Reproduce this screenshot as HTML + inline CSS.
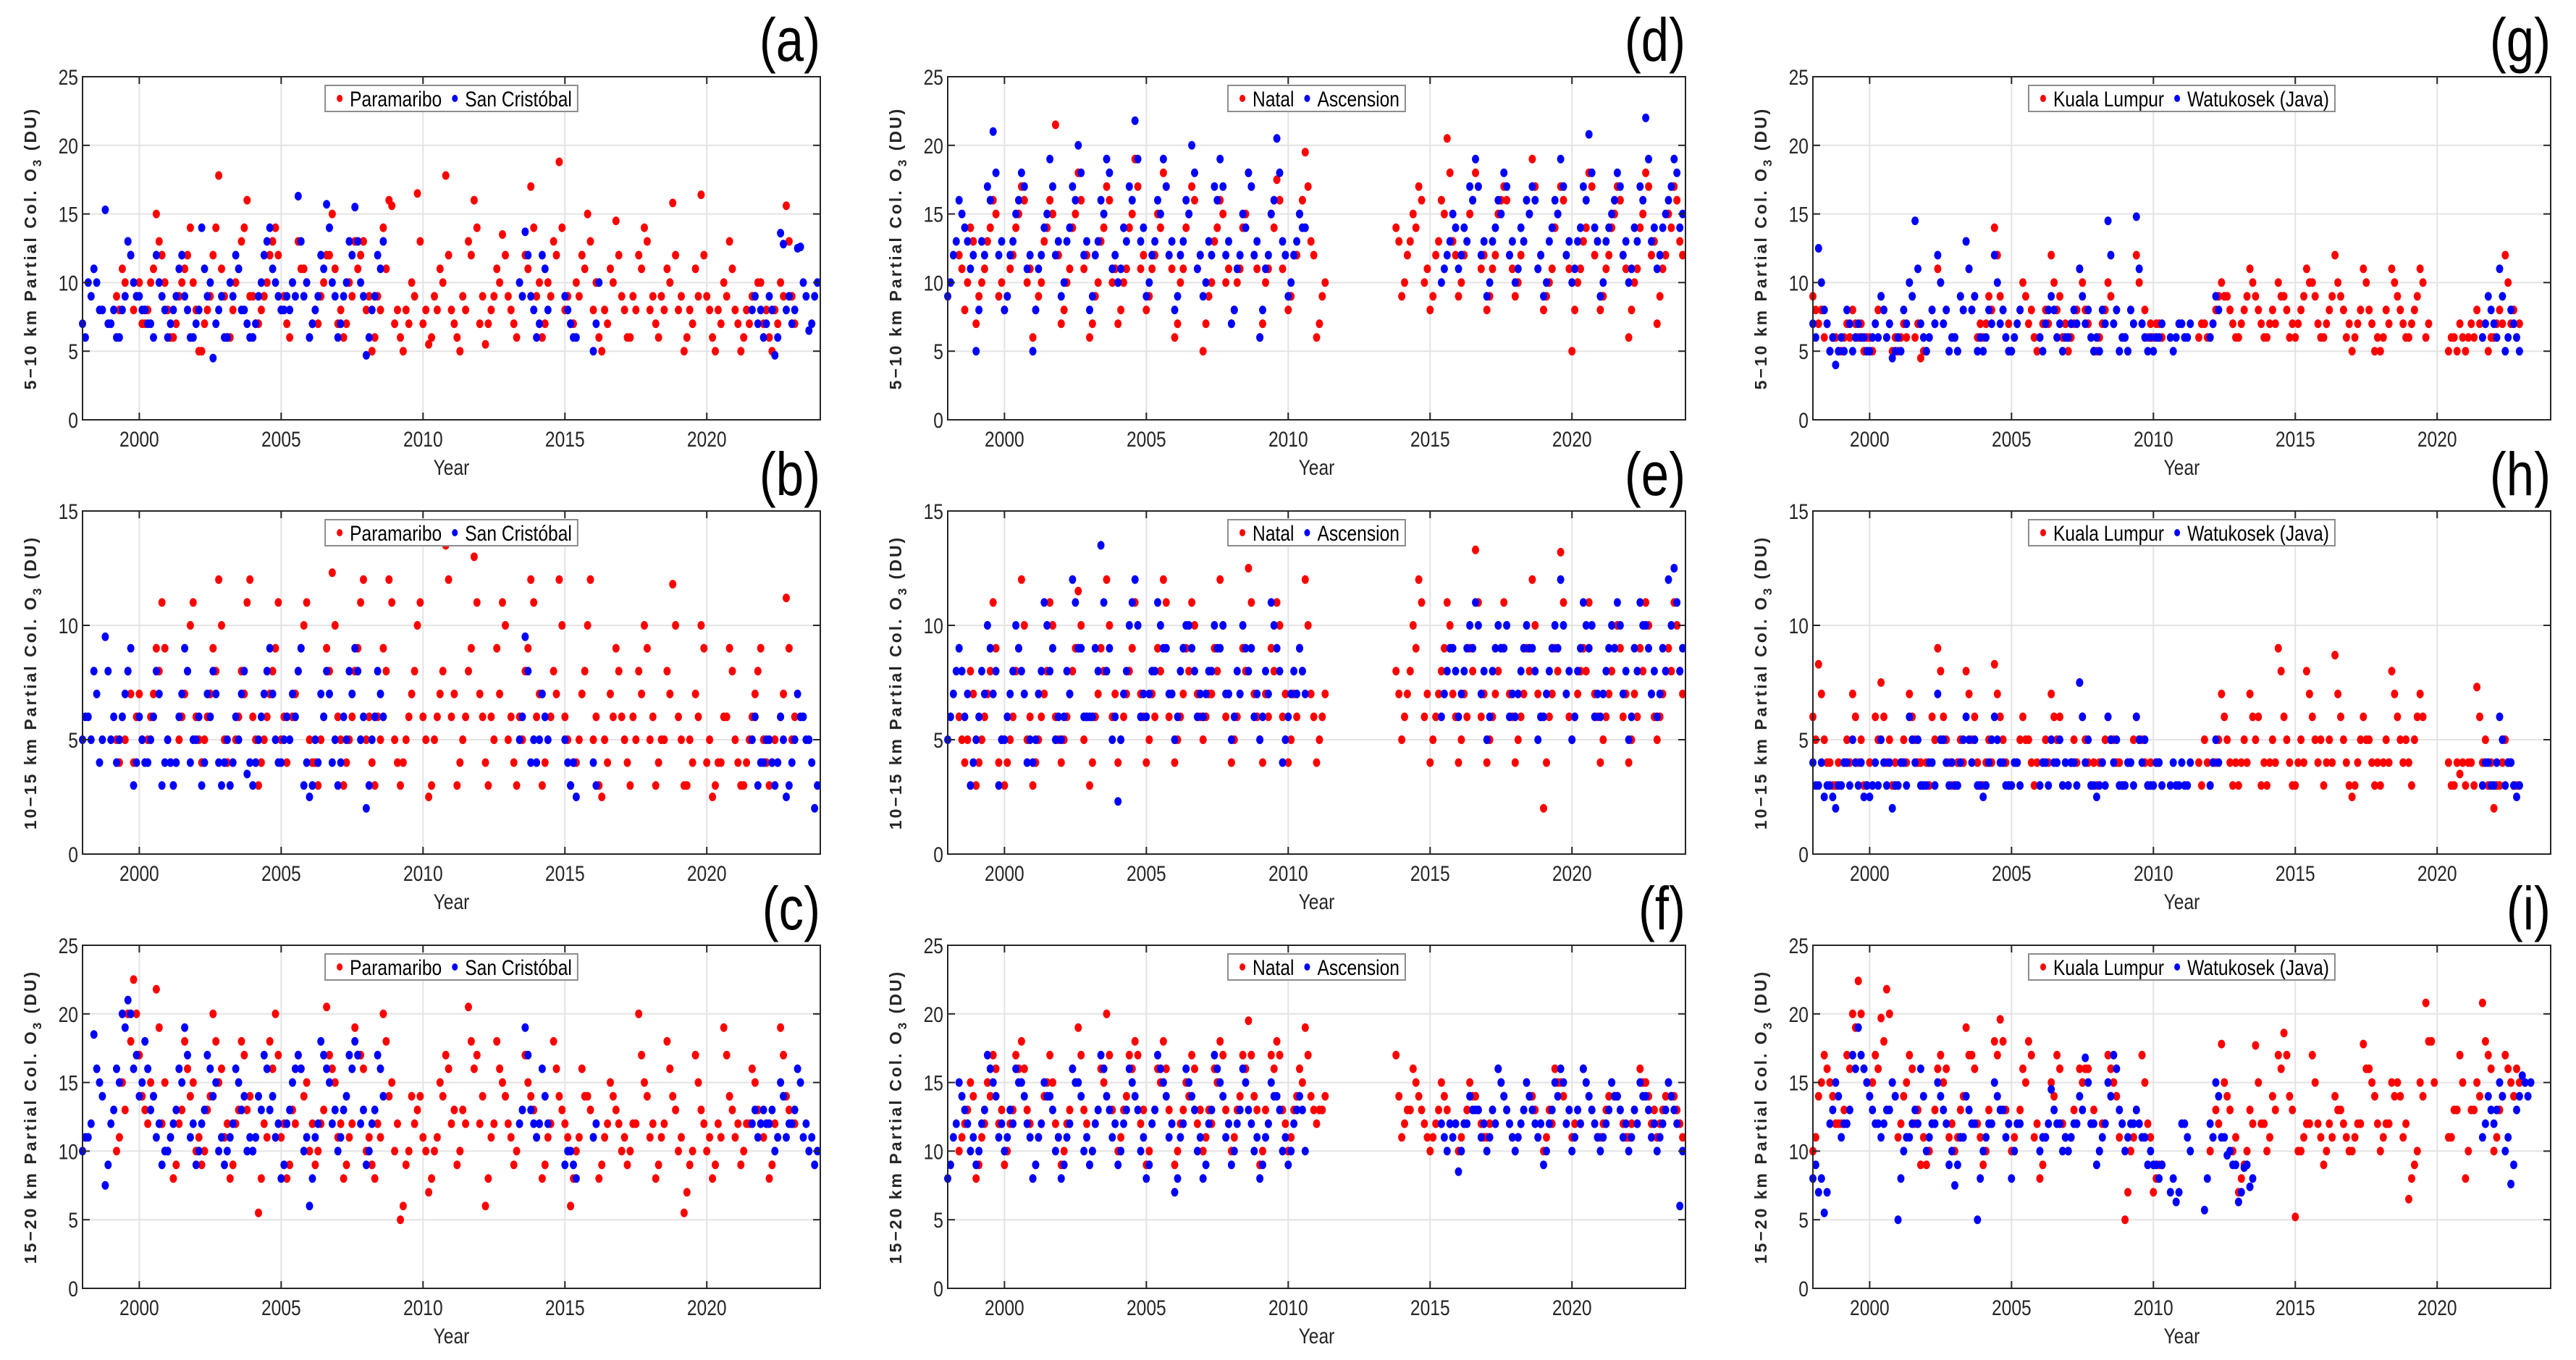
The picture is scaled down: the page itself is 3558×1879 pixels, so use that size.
<!DOCTYPE html>
<html><head><meta charset="utf-8"><style>
html,body{margin:0;padding:0;background:#fff}
svg{display:block}
.tk{font-family:"Liberation Sans",sans-serif;font-size:30px;fill:#262626}
.lg{font-family:"Liberation Sans",sans-serif;font-size:30px;fill:#000}
.pl{font-family:"Liberation Sans",sans-serif;font-size:84px;fill:#000}
.yl{font-family:"Liberation Sans",sans-serif;font-weight:bold;font-size:23px;fill:#262626}
</style></head><body>
<svg id="fig" width="3558" height="1879" viewBox="0 0 3558 1879" xmlns="http://www.w3.org/2000/svg"></svg>
<script>
// ---- data (5 samples per year per array, null = no data) ----
const xTicks=[2000,2005,2010,2015,2020];
const yTicks25=[0,5,10,15,20,25];
const yTicks15=[0,5,10,15];
const a_red_start=1999.2;
const a_red=[9,11,13,8,10, 7,10,15,12,8, 6,9,11,14,8, 5,8,12,17.8,9, 6,10,13,16,9, 7,9,12,14,8, 7,10,13,11,6, 8,9,12,15,7, 6,10,13,12,8, 5,9,14,16,7, 6,8,10,16.5,7, 5.5,9,11,17.8,8, 6,9,13,16,7, 5.5,8,11,13.5,9, 7,10,12,17,9, 6,10,13,18.8,8, 7,10,12,15,8, 6,8,11,14.5,9, 6,9,12,14,8, 7,9,11,15.8,8, 5,8,11,16.4,9, 6,8,10,13,8, 5,8,9,10,7, 6,8,10,15.6,9];
const a_red2_start=1999.3;
const a_red2=[8,10,12,9,7, 8,11,13,10,6, 7,10,12,10,5, 7,9,14,11,6, 8,11,14,9,7, 8,10,13,12,9, 6,9,11,10,7, 7,10,12,11,8, 7,9,11,13,9, 6,8,11,15.6,8, 5,7,9,13,8, 6,8,10,12,7, 5,8,12,14,9, 7,9,10,12,8, 6,9,11,14,10, 7,9,12,14,9, 7,9,11,13,10, 5,7,10,12,8, 6,8,11,13,9, 6,8,10,12,9, 6,7,9,12,8, 5,7,9,11,7, 6,7,9,10,8, 5,7,9,13,7];
const a_blue_start=1998.0;
const a_blue=[7,10,11,8,15.3, 7,6,8,13,10, 9,8,7,12,9, 6,8,11,9,6, 7,14,9,4.5,8, 6,10,12,8,7, 6,9,12,14,10, 8,9,10,16.3,9, 6,8,12,15.7,10, 6,9,13,15.5,10, 4.7,8,12,13,null, null,null,null,null,null, null,null,null,null,null, null,null,null,null,null, null,null,null,null,null, null,null,10,13.7,9, 6,12,8,null,null, 9,7,6,null,null, 5,10,null,null,null, null,null,null,null,null, null,null,null,null,null, null,null,null,null,null, null,null,null,null,null, null,null,null,8,7, 6,9,4.7,13.6,8, 7,12.5,10,6.5,9];
const a_blue2_start=1998.1;
const a_blue2=[6,9,10,8,7, 8,6,9,12,9, 8,7,6,10,8, 7,9,12,8,6, 8,11,10,7,9, 6,9,11,8,6, 7,10,13,11,9, 8,8,9,13,10, 7,9,11,14,9, 7,10,12,13,9, 6,9,11,null,null, null,null,null,null,null, null,null,null,null,null, null,null,null,null,null, null,null,null,null,null, null,null,9,12,8, 7,11,null,null,null, 8,6,null,null,null, 7,null,null,null,null, null,null,null,null,null, null,null,null,null,null, null,null,null,null,null, null,null,null,null,null, null,null,null,9,8, 7,8,6,12.8,9, 8,12.6,9,7,10];
const b_red_start=1999.2;
const b_red=[5,6,8,4,7, 4,6,9,11,5, 3,5,7,10,6, 4,6,9,12,5, 3,5,8,11,6, 3,5,7,9,5, 4,6,8,10,5, 4,5,9,12.3,6, 3,5,8,11,5, 4,6,9,12,5, 3,5,7,10,6, 2.5,5,7,13.5,6, 3,5,8,13,7, 4,6,9,11,5, 4,6,8,12,6, 3,5,8,12,6, 3,4,7,10,5, 3,5,7,9,6, 4,6,8,10,5, 3,5,8,11.8,6, 3,5,7,10,4, 2.5,4,6,9,5, 3,4,6,8,5, 3,5,6,11.2,5];
const b_red2_start=1999.3;
const b_red2=[4,5,7,6,5, 5,7,8,9,4, 4,6,8,11,5, 5,7,8,10,4, 4,6,7,12,5, 4,6,8,11,6, 5,7,9,11,4, 3,6,8,10,5, 4,6,9,12,6, 3,5,8,11,4, 4,6,8,11,5, 3,6,8,12,7, 4,6,9,11,6, 3,5,7,10,6, 3,5,9,11,7, 4,6,7,10,5, 4,5,8,12,6, 2.5,4,6,8,5, 3,5,7,9,6, 4,5,7,10,5, 3,4,6,9,5, 3,4,6,8,4, 3,5,7,9,4, 4,4,7,9,6];
const b_blue_start=1998.0;
const b_blue=[5,6,8,4,9.5, 5,4,6,8,3, 6,4,5,8,3, 5,3,6,9,4, 5,3,7,8,4, 4,3,6,7,3.5, 3,5,7,9,5, 4,6,7,8,3, 2.5,5,7,8,4, 3,6,8,9,5, 2,5,8,6,null, null,null,null,null,null, null,null,null,null,null, null,null,null,null,null, null,null,null,null,null, null,null,5,9.5,4, 4,7,5,null,null, 5,3,2.5,null,null, 4,null,null,null,null, null,null,null,null,null, null,null,null,null,null, null,null,null,null,null, null,null,null,null,null, null,null,null,5,3, 4,5,3,6,2.5, 4,7,6,5,2];
const b_blue2_start=1998.1;
const b_blue2=[6,5,7,5,8, 6,5,7,9,4, 5,4,6,7,4, 4,4,7,8,5, 6,4,6,7,3, 5,4,5,8,4, 4,6,8,7,4, 5,5,6,9,4, 3,4,6,7,5, 4,5,7,8,6, 3,6,7,null,null, null,null,null,null,null, null,null,null,null,null, null,null,null,null,null, null,null,null,null,null, null,null,6,8,5, 5,6,null,null,null, 4,4,null,null,null, 3,null,null,null,null, null,null,null,null,null, null,null,null,null,null, null,null,null,null,null, null,null,null,null,null, null,null,null,6,4, 5,4,4,5,3, 5,6,5,4,3];
const c_red_start=1999.2;
const c_red=[10,15,20,22.5,17, 13,15,21.8,12,10, 8,12,18,14,10, 9,13,20,15,11, 8,12,18,13,10, 5.5,12,18,20,11, 8,13,17,14,10, 9,12,20.5,16,11, 8,11,19,17,10, 9,12,20,14,10, 5,9,14,13,11, 7,10,15,17,12, 9,13,20.5,16,12, 6,11,18,15,12, 9,12,17,14,11, 8,11,18,14,12, 6,10,16,14,11, 8,11,15,13,10, 9,12,20,15,11, 8,11,18,14,10, 5.5,9,17,13,10, 8,12,19,14,11, 9,12,16,13,11, 8,12,19,14,12];
const c_red2_start=1999.3;
const c_red2=[11,13,18,20,14, 12,14,19,15,11, 9,13,16,15,11, 10,14,18,16,12, 9,13,17,14,11, 8,11,16,17,12, 9,12,16,15,12, 10,13,17,15,12, 9,12,17,16,11, 8,11,18,15,12, 6,10,12,14,10, 8,11,14,16,13, 10,12,18,17,14, 8,12,16,14,11, 10,13,15,13,12, 9,12,16,13,11, 8,11,14,13,12, 9,12,14,12,11, 10,12,17,14,12, 9,12,16,13,11, 7,10,15,12,11, 9,11,17,13,12, 10,12,15,12,12, 9,11,17,13,12];
const c_blue_start=1998.0;
const c_blue=[10,11,18.5,15,7.5, 12,16,20,21,16, 14,18,13,11,9, 10,12,16,19,11, 9,12,17,14,10, 9,11,16,13,10, 10,14,17,13,11, 8,12,15,17,10, 6,11,18,16,12, 10,13,17,18,12, 9,12,17,14,null, null,null,null,null,null, null,null,null,null,null, null,null,null,null,null, null,null,null,null,null, null,null,12,19,13, 11,16,12,null,null, 9,10,8,null,null, 11,null,null,null,null, null,null,null,null,null, null,null,null,null,null, null,null,null,null,null, null,null,null,null,null, null,null,null,12,11, 13,12,10,15,11, 12,16,11,10,9];
const c_blue2_start=1998.1;
const c_blue2=[11,12,16,14,9, 13,15,19,20,17, 15,16,14,12,10, 11,13,15,17,12, 10,13,16,15,11, 10,12,15,14,11, 11,13,16,14,12, 9,13,16,16,11, 8,12,17,15,13, 11,14,16,17,13, 10,13,16,null,null, null,null,null,null,null, null,null,null,null,null, null,null,null,null,null, null,null,null,null,null, null,null,13,17,12, 12,14,null,null,null, 10,9,null,null,null, 12,null,null,null,null, null,null,null,null,null, null,null,null,null,null, null,null,null,null,null, null,null,null,null,null, null,null,null,13,12, 12,13,11,14,12, 13,15,12,11,10];
const d_red_start=1998.4;
const d_red=[12,8,14, 7,10,13,16,9, 8,11,14,17,10, 6,9,13,16,21.5, 7,10,14,18,11, 6,9,13,17,10, 7,10,14,19,11, 8,11,15,18,12, 6,10,14,17,11, 5,9,13,16,10, 7,10,14,18,12, 6,10,15,17.5,11, 8,12,15,19.5,13, 6,9,null,null,null, null,null,null,null,null, null,null,null,null,14, 9,12,15,17,10, 8,12,16,20.5,13, 9,12,15,18,11, 8,11,15,17,12, 9,12,16,19,11, 8,10,14,17,12, 5,10,13,18,12, 8,11,14,17,12, 6,10,14,18,12, 7,11,15,17,13];
const d_red2_start=1998.5;
const d_red2=[11,10,13, 9,11,14,15,10, 9,12,15,16,11, 8,10,14,15,12, 8,11,15,16,12, 7,10,14,16,11, 8,11,15,17,12, 9,12,14,17,11, 7,11,15,16,12, 7,10,14,15,11, 8,11,15,17,11, 7,11,14,16,12, 9,12,16,17,12, 7,10,null,null,null, null,null,null,null,null, null,null,null,null,13, 10,13,14,16,11, 9,13,15,18,12, 10,13,16,17,12, 9,12,16,16,11, 10,13,15,17,12, 9,11,15,16,11, 8,11,14,17,13, 9,12,15,16,11, 8,11,15,17,13, 9,12,14,16,12];
const d_blue_start=1998.0;
const d_blue=[9,12,16,14,11, 5,13,17,21,12, 8,12,15,18,11, 5,11,14,19,12, 9,13,17,20,12, 8,12,16,19,11, 10,14,17,21.8,13, 9,12,16,19,12, 8,12,16,20,11, 9,13,17,19,12, 7,11,15,18,12, 6,11,15,20.5,13, 9,12,15,14,null, null,null,null,null,null, null,null,null,null,null, null,null,null,null,null, null,null,null,null,null, null,null,10,12,15, 11,14,17,19,12, 9,13,16,18,12, 10,14,16,17,11, 9,13,16,19,12, 10,13,17,20.8,14, 9,13,15,18,12, 10,14,17,22,13, 11,14,16,19,14];
const d_blue2_start=1998.1;
const d_blue2=[10,13,15,13,12, 8,12,16,18,13, 9,13,16,17,12, 8,12,15,17,13, 10,14,16,18,13, 9,13,15,18,12, 11,13,16,19,14, 10,13,15,17,13, 9,13,15,18,12, 10,12,16,17,13, 8,12,14,17,13, 8,12,16,18,12, 10,13,14,null,null, null,null,null,null,null, null,null,null,null,null, null,null,null,null,null, null,null,null,null,null, null,null,11,13,14, 12,13,16,17,13, 10,14,15,17,13, 11,13,15,16,12, 10,14,15,17,13, 11,14,16,18,13, 10,14,16,17,13, 11,13,16,19,14, 12,15,17,18,15];
const e_red_start=1998.4;
const e_red=[6,4,8, 3,5,7,11,4, 3,5,8,12,5, 3,5,7,11,6, 4,6,8,11.5,5, 3,6,9,12,6, 4,6,8,11,7, 4,7,9,12,6, 4,6,9,11,7, 5,7,9,12,6, 4,6,9,12.5,7, 5,7,9,11,6, 4,7,9,12,7, 4,6,null,null,null, null,null,null,null,null, null,null,null,null,8, 5,7,10,12,6, 4,6,8,11,7, 4,7,9,13.3,6, 4,6,8,11,7, 4,6,9,12,7, 2,6,9,13.2,7, 5,7,9,11,7, 4,6,8,10,6, 4,7,9,11,7, 5,7,9,11,8];
const e_red2_start=1998.5;
const e_red2=[5,5,7, 4,6,8,9,5, 4,6,9,10,6, 4,6,8,10,5, 5,7,9,10,6, 4,7,8,10,7, 5,7,9,10,6, 5,6,8,11,7, 5,7,8,10,6, 6,7,8,10,7, 5,7,8,11,6, 4,6,8,10,7, 5,6,8,10,6, 5,7,null,null,null, null,null,null,null,null, null,null,null,null,7, 6,8,9,11,7, 5,7,9,10,6, 5,6,8,11,7, 5,7,9,10,6, 5,7,8,10,6, 4,7,8,11,6, 6,8,8,10,6, 5,7,9,9,7, 5,6,8,10,6, 6,8,8,10,7];
const e_blue_start=1998.0;
const e_blue=[5,7,9,6,3, 5,8,10,7,3, 5,7,10,8,4, 4,7,11,8,5, 5,8,12,9,6, 6,9,13.5,8,5, 2.3,7,10,12,6, 6,8,11,9,7, 5,8,10,9,6, 6,8,10,9,7, 5,8,10,8,6, 5,8,11,9,4, 6,8,9,7,null, null,null,null,null,null, null,null,null,null,null, null,null,null,null,null, null,null,null,null,null, null,null,6,8,9, 6,8,10,11,7, 5,8,10,9,6, 6,8,10,9,5, 6,8,10,12,7, 5,8,11,9,6, 6,8,10,11,7, 5,9,11,10,7, 6,9,12,12.5,8];
const e_blue2_start=1998.1;
const e_blue2=[6,8,8,7,4, 6,7,9,8,5, 6,8,9,7,5, 5,8,10,9,6, 6,7,11,9,6, 6,8,11,9,6, 5,8,11,10,7, 7,8,10,9,7, 6,9,10,8,7, 7,8,9,10,7, 6,7,9,9,7, 6,7,10,8,5, 7,7,8,null,null, null,null,null,null,null, null,null,null,null,null, null,null,null,null,null, null,null,null,null,null, null,null,7,9,8, 7,9,9,10,8, 6,9,9,10,7, 7,9,9,8,6, 7,9,9,10,8, 6,9,10,10,7, 7,9,9,10,8, 6,8,10,9,8, 7,8,10,11,9];
const f_red_start=1998.4;
const f_red=[10,12,15, 8,11,15,17,12, 9,12,17,18,13, 8,11,14,17,12, 9,12,16,19,13, 9,12,16,20,13, 10,13,17,18,12, 9,12,16,18,13, 9,12,15,17,12, 10,13,16,18,13, 10,13,17,19.5,14, 9,13,17,18,13, 10,13,16,19,14, 12,13,null,null,null, null,null,null,null,null, null,null,null,null,17, 11,13,16,14,12, 10,12,15,13,11, 10,12,15,14,12, 11,13,16,14,12, 10,12,15,14,11, 10,13,16,15,12, 11,13,16,14,12, 11,13,15,14,12, 11,13,16,15,12, 11,13,15,14,12];
const f_red2_start=1998.5;
const f_red2=[11,13,14, 9,12,14,16,13, 10,13,16,16,12, 9,12,15,15,11, 10,13,15,17,12, 10,13,15,17,12, 11,14,16,17,13, 10,13,15,16,12, 10,13,14,16,13, 11,12,15,17,12, 11,14,16,17,13, 10,12,16,17,12, 11,14,15,17,13, 13,14,null,null,null, null,null,null,null,null, null,null,null,null,14, 12,13,15,13,11, 11,13,14,12,12, 11,13,14,13,11, 12,12,15,13,11, 11,13,14,13,12, 11,12,15,14,13, 12,12,15,13,11, 12,14,14,13,11, 12,12,15,14,13, 12,14,14,13,11];
const f_blue_start=1998.0;
const f_blue=[8,11,15,13,10, 9,12,17,15,11, 10,13,16,15,12, 8,11,15,14,10, 8,11,16,15,10, 9,12,17,14,11, 9,12,16,14,10, 8,12,17,15,11, 7,11,16,14,10, 8,12,17,15,11, 9,12,16,13,10, 8,11,15,14,10, 9,12,14,10,null, null,null,null,null,null, null,null,null,null,null, null,null,null,null,null, null,null,null,null,null, null,null,12,10,11, 8.5,12,14,13,11, 10,13,16,14,12, 10,12,15,13,11, 9,12,15,16,12, 10,13,16,14,12, 10,12,15,14,11, 10,13,15,14,11, 10,12,15,13,6];
const f_blue2_start=1998.1;
const f_blue2=[9,12,14,12,11, 10,13,16,14,12, 11,12,15,14,11, 9,12,14,13,11, 9,12,15,14,11, 10,13,16,13,12, 10,13,15,13,11, 9,13,16,14,12, 8,12,15,13,11, 9,13,16,14,12, 10,13,15,12,11, 9,12,14,13,11, 10,13,13,null,null, null,null,null,null,null, null,null,null,null,null, null,null,null,null,null, null,null,null,null,null, null,null,11,12,12, 10,12,13,13,12, 11,12,15,13,11, 11,13,14,12,12, 10,13,14,15,13, 11,12,15,13,11, 11,13,14,13,12, 11,12,14,13,12, 11,13,14,12,10];
const g_red_start=1998.0;
const g_red=[9,7,6,5,6, 5,7,8,6,5, 6,7,9,6,5, 5,7,10,6,4.5, 5,8,11,7,5, 6,9,13,8,6, 6,9,14,9,6, 5,7,10,7,6, 6,8,12,8,6, 5,7,11,8,6, 5,7,10,7,5, 6,8,12,7,6, 6,7,null,null,null, null,null,null,6,7, 6,8,10,9,7, 6,8,11,9,7, 6,8,10,9,6, 6,8,11,10,7, 6,8,12,9,6, 5,7,11,8,5, 5,8,11,9,7, 6,8,11,6,null, null,null,5,6,7, 5,7,8,6,5, 6,8,12,7,6];
const g_red2_start=1998.1;
const g_red2=[8,8,7,6,5, 6,6,7,7,6, 5,8,8,7,6, 6,6,9,7,5, 6,7,10,8,6, 5,8,11,9,7, 7,8,12,8,7, 6,8,9,8,5, 7,7,10,9,7, 6,8,10,7,5, 6,8,9,8,6, 5,7,10,8,7, 7,6,null,null,null, null,null,null,7,6, 7,9,9,8,6, 7,9,10,8,6, 7,7,9,8,7, 7,9,10,9,6, 7,9,10,8,7, 6,8,10,7,6, 6,7,10,8,6, 7,9,10,7,null, null,null,6,5,6, 6,6,7,7,6, 7,7,10,8,7];
const g_blue_start=1998.0;
const g_blue=[7,12.5,8,5,4, 6,8,5,7,6, 5,7,9,6,4.5, 6,8,10,14.5,7, 5,8,12,7,5, 6,9,13,8,5, 5,8,12,7,6, 5,7,null,null,null, 6,7,9,6,5, 6,8,11,7,6, 6,8,14.5,7,5, 6,8,14.8,7,5, 5,6,null,6,6, 7,6,null,null,null, 6,9,null,null,null, null,null,null,null,null, null,null,null,null,null, null,null,null,null,null, null,null,null,null,null, null,null,null,null,null, null,null,null,null,null, null,null,null,null,null, null,null,null,null,null, null,null,null,6,9, 7,11,5,8,6];
const g_blue2_start=1998.1;
const g_blue2=[6,10,7,6,5, 5,7,6,6,5, 6,6,8,7,5, 5,7,9,11,6, 6,7,10,8,6, 5,8,11,9,6, 6,7,10,8,5, 6,8,null,null,null, 5,8,8,7,6, 7,7,9,8,5, 5,7,12,8,6, 5,7,11,6,6, 6,7,null,5,7, 6,7,null,null,null, 7,8,null,null,null, null,null,null,null,null, null,null,null,null,null, null,null,null,null,null, null,null,null,null,null, null,null,null,null,null, null,null,null,null,null, null,null,null,null,null, null,null,null,null,null, null,null,null,7,8, 6,9,6,7,5];
const h_red_start=1998.0;
const h_red=[6,8.3,5,4,3, 3,5,7,4,3, 4,6,7.5,4,3, 3,5,7,5,4, 4,6,9,6,4, 3,5,8,5,4, 3,5,8.3,6,4, 3,4,6,5,3, 3,5,7,5,3, 3,5,7.5,5,3, 3,4,6,5,4, 3,4,6,5,3, 3,4,null,null,null, null,null,null,4,5, 3,4,7,5,3, 3,5,7,5,3, 3,5,9,6,4, 3,5,8,6,4, 3,5,8.7,6,4, 2.5,4,6,5,3, 3,5,8,6,4, 4,5,7,null,null, null,null,4,3,3.5, 3,4,7.3,4,3, 2,3,5,4,3];
const h_red2_start=1998.1;
const h_red2=[5,7,4,3,4, 4,4,6,5,3, 3,5,6,5,4, 4,4,6,4,3, 3,5,8,5,3, 4,4,7,6,3, 4,4,7,5,3, 4,5,5,4,4, 4,4,6,6,4, 4,4,6,4,4, 4,5,5,4,3, 4,5,5,4,4, 4,3,null,null,null, null,null,null,3,4, 4,5,6,4,4, 4,4,6,6,4, 4,4,8,5,3, 4,4,7,5,5, 4,4,7,5,3, 3,5,5,4,4, 4,4,7,5,5, 3,6,6,null,null, null,null,3,4,4, 4,3,6,5,4, 3,4,4,3,3];
const h_blue_start=1998.0;
const h_blue=[4,3,2.5,3,2, 3,4,5,3,2.5, 2.5,4,5,3,2, 3,4,6,4,3, 3,4,7,5,3, 3,4,6,4,3, 2.5,4,6,4,3, 3,4,null,null,null, 3,4,5,4,3, 3,4,7.5,4,3, 2.5,4,6,4,3, 3,4,6,4,3, 3,4,null,3,3, 4,3,null,null,null, 3,5,null,null,null, null,null,null,null,null, null,null,null,null,null, null,null,null,null,null, null,null,null,null,null, null,null,null,null,null, null,null,null,null,null, null,null,null,null,null, null,null,null,null,null, null,null,null,3,4, 3,6,3,4,2.5];
const h_blue2_start=1998.1;
const h_blue2=[3,4,3,2.5,3, 4,3,4,4,3, 3,3,4,4,3, 4,3,5,5,3, 4,3,5,4,4, 3,5,5,5,3, 3,5,5,4,3, 4,3,null,null,null, 4,3,4,5,4, 4,3,6,5,3, 3,3,5,5,3, 4,3,5,5,3, 4,3,null,4,3, 3,4,null,null,null, 4,4,null,null,null, null,null,null,null,null, null,null,null,null,null, null,null,null,null,null, null,null,null,null,null, null,null,null,null,null, null,null,null,null,null, null,null,null,null,null, null,null,null,null,null, null,null,null,4,3, 4,5,4,3,3];
const i_red_start=1998.0;
const i_red=[10,14,17,15,12, 12,17,20,22.4,16, 14,17,19.7,21.8,15, 11,14,17,12,9, 9,12,16,15,11, 10,13,19,17,12, 9,13,18,19.6,13, 10,12,16,18,11, 8,11,15,17,12, 10,13,16,16,12, 9,12,17,15,11, 5,10,13,17,12, 7,9,null,null,null, null,null,null,null,null, 10,13,17.8,14,10, 7,9,13,17.7,12, 10,14,17,18.6,14, 5.2,10,12,17,12, 9,12,14,13,11, 10,12,17.8,16,14, 10,12,15,15,11, 6.5,9,15,20.8,18, null,null,11,13,17, 8,13,15,20.8,17, 10,13,17,15,16];
const i_red2_start=1998.1;
const i_red2=[11,15,16,14,12, 13,16,19,20,15, 15,16,18,20,14, 12,15,16,13,11, 10,13,17,16,12, 11,14,17,16,11, 10,12,17,18,12, 11,13,15,17,12, 9,12,14,16,11, 11,12,15,16,13, 10,12,16,14,12, 7,11,12,15,11, 8,9,null,null,null, null,null,null,null,null, 11,12,15,13,11, 8,10,12,15,12, 11,13,16,17,13, 10,11,12,15,11, 10,11,13,12,10, 11,12,16,15,12, 11,12,14,14,12, 8,10,14,18,15, null,null,11,13,15, 10,13,14,18,16, 11,14,16,14,15];
const i_blue_start=1998.0;
const i_blue=[8,7,5.5,12,15, 11,12,17,19,16, 14,12,11,13,15, 5,10,11,13,16, 10,12,15,13,9, 7.5,11,14,12,5, 10,12,15,13,11, 8,12,null,null,null, 10,11,14.5,12,10, 10,12,14,16.8,12, 9,11,15,17,13, 10,12,13,11,9, 9,8,null,7,6.3, 12,11,null,null,5.7, 12,15,11,9.7,9, 6.3,8.8,7.4,null,null, null,null,null,null,null, null,null,null,null,null, null,null,null,null,null, null,null,null,null,null, null,null,null,null,null, null,null,null,null,null, null,null,null,null,null, null,null,null,11,14, 12,15,10,7.6,13, 15.5,14];
const i_blue2_start=1998.1;
const i_blue2=[9,8,7,13,14, 12,13,16,17,15, 13,12,12,13,14, 8,11,12,12,14, 11,12,14,12,10, 9,11,13,12,8, 11,12,14,13,12, 10,12,null,null,null, 11,12,13,12,11, 11,12,13,15,12, 10,12,14,16,12, 11,12,12,11,10, 9,9,null,8,7, 12,10,null,null,8, 11,14,11,10,9, 7,9,8,null,null, null,null,null,null,null, null,null,null,null,null, null,null,null,null,null, null,null,null,null,null, null,null,null,null,null, null,null,null,null,null, null,null,null,null,null, null,null,null,12,13, 13,14,11,9,14, 15,15];

// ---- layout ----
const svg=document.getElementById('fig');
const NS='http://www.w3.org/2000/svg';
const colX=[114,1309,2504], rowY=[106,706,1306], AW=1019, AH=474;
const X0=1998, X1=2024, DT=0.2, SX=0.82;
function el(tag,attrs,parent,text){const e=document.createElementNS(NS,tag);for(const k in attrs)e.setAttribute(k,attrs[k]);if(text!==undefined)e.textContent=text;(parent||svg).appendChild(e);return e;}
function ntext(x,y,anchor,cls,parent,str){return el('text',{x:0,y:0,'text-anchor':anchor,class:cls,transform:`translate(${x},${y}) scale(${SX},1)`},parent,str);}

const panels=[
 {id:'a',col:0,row:0,ymax:25,yt:yTicks25,lab:['5','10'],names:['Paramaribo','San Cristóbal'],red:[[a_red,a_red_start],[a_red2,a_red2_start]],blue:[[a_blue,a_blue_start],[a_blue2,a_blue2_start]]},
 {id:'b',col:0,row:1,ymax:15,yt:yTicks15,lab:['10','15'],names:['Paramaribo','San Cristóbal'],red:[[b_red,b_red_start],[b_red2,b_red2_start]],blue:[[b_blue,b_blue_start],[b_blue2,b_blue2_start]]},
 {id:'c',col:0,row:2,ymax:25,yt:yTicks25,lab:['15','20'],names:['Paramaribo','San Cristóbal'],red:[[c_red,c_red_start],[c_red2,c_red2_start]],blue:[[c_blue,c_blue_start],[c_blue2,c_blue2_start]]},
 {id:'d',col:1,row:0,ymax:25,yt:yTicks25,lab:['5','10'],names:['Natal','Ascension'],red:[[d_red,d_red_start],[d_red2,d_red2_start]],blue:[[d_blue,d_blue_start],[d_blue2,d_blue2_start]]},
 {id:'e',col:1,row:1,ymax:15,yt:yTicks15,lab:['10','15'],names:['Natal','Ascension'],red:[[e_red,e_red_start],[e_red2,e_red2_start]],blue:[[e_blue,e_blue_start],[e_blue2,e_blue2_start]]},
 {id:'f',col:1,row:2,ymax:25,yt:yTicks25,lab:['15','20'],names:['Natal','Ascension'],red:[[f_red,f_red_start],[f_red2,f_red2_start]],blue:[[f_blue,f_blue_start],[f_blue2,f_blue2_start]]},
 {id:'g',col:2,row:0,ymax:25,yt:yTicks25,lab:['5','10'],names:['Kuala Lumpur','Watukosek (Java)'],red:[[g_red,g_red_start],[g_red2,g_red2_start]],blue:[[g_blue,g_blue_start],[g_blue2,g_blue2_start]]},
 {id:'h',col:2,row:1,ymax:15,yt:yTicks15,lab:['10','15'],names:['Kuala Lumpur','Watukosek (Java)'],red:[[h_red,h_red_start],[h_red2,h_red2_start]],blue:[[h_blue,h_blue_start],[h_blue2,h_blue2_start]]},
 {id:'i',col:2,row:2,ymax:25,yt:yTicks25,lab:['15','20'],names:['Kuala Lumpur','Watukosek (Java)'],red:[[i_red,i_red_start],[i_red2,i_red2_start]],blue:[[i_blue,i_blue_start],[i_blue2,i_blue2_start]]}
];

panels.forEach(p=>{
  const L=colX[p.col], T=rowY[p.row], R=L+AW, B=T+AH;
  const xs=t=>L+(t-X0)/(X1-X0)*AW;
  const ys=v=>B-v/p.ymax*AH;
  const g=el('g',{});
  
  
  el('rect',{x:L,y:T,width:AW,height:AH,fill:'#fff'},g);
  xTicks.forEach(t=>{const l=el('line',{x1:xs(t),x2:xs(t),y1:T,y2:B,stroke:'#e3e3e3','stroke-width':2},g);
    });
  p.yt.forEach(v=>{const l=el('line',{x1:L,x2:R,y1:ys(v),y2:ys(v),stroke:'#e3e3e3','stroke-width':2},g);
    });
  [[p.red,'#ff0000','red'],[p.blue,'#0000ff','blue']].forEach(([sets,col,nm])=>{
    const sg=el('g',{fill:col},g);
    
    
    sets.forEach(([vals,st])=>{
      vals.forEach((v,k)=>{ if(v===null) return;
        const t=st+k*DT; if(t>X1) return;
        const c=el('ellipse',{cx:xs(t).toFixed(1),cy:ys(v).toFixed(1),rx:5,ry:6},sg);
        
        
      });
    });
  });
  const bx=el('rect',{x:L,y:T,width:AW,height:AH,fill:'none',stroke:'#262626','stroke-width':2},g);
  
  xTicks.forEach(t=>{
    el('line',{x1:xs(t),x2:xs(t),y1:B,y2:B-10,stroke:'#262626','stroke-width':2},g);
    el('line',{x1:xs(t),x2:xs(t),y1:T,y2:T+10,stroke:'#262626','stroke-width':2},g);
    const tx=ntext(xs(t),B+37,'middle','tk',g,String(t));
    
  });
  p.yt.forEach(v=>{
    el('line',{x1:L,x2:L+10,y1:ys(v),y2:ys(v),stroke:'#262626','stroke-width':2},g);
    el('line',{x1:R,x2:R-10,y1:ys(v),y2:ys(v),stroke:'#262626','stroke-width':2},g);
    const tx=ntext(L-6,ys(v)+11,'end','tk',g,String(v));
    
  });
  const xl=ntext((L+R)/2,B+76,'middle','tk',g,'Year');
  
  const yl=el('text',{x:0,y:0,'text-anchor':'middle',class:'yl',transform:`translate(${L-64},${(T+B)/2}) rotate(-90)`},g);
  
  yl.setAttribute('letter-spacing','3');
  el('tspan',{},yl,p.lab[0]+'−'+p.lab[1]+' km Partial Col. O');
  el('tspan',{dy:7,'font-size':17},yl,'3');
  el('tspan',{dy:-7},yl,' (DU)');
  const pl=ntext(R,T-22,'end','pl',g,'('+p.id+')');
  
  const lg=el('g',{},g);
  
  const box=el('rect',{x:0,y:T+12,height:36,fill:'#fff',stroke:'#8c8c8c','stroke-width':2},lg);
  const t1=ntext(0,T+41,'start','lg',lg,p.names[0]);
  const t2=ntext(0,T+41,'start','lg',lg,p.names[1]);
  const w1=t1.getComputedTextLength()*SX, w2=t2.getComputedTextLength()*SX;
  const W=20+12+w1+18+12+w2+12;
  const x0=(L+R)/2-W/2;
  box.setAttribute('x',x0);box.setAttribute('width',W);
  const d1=el('ellipse',{cx:x0+20,cy:T+30,rx:4,ry:5,fill:'#ff0000'},lg);
  
  t1.setAttribute('transform',`translate(${x0+34},${T+41}) scale(${SX},1)`);
  const d2=el('ellipse',{cx:x0+34+w1+18,cy:T+30,rx:4,ry:5,fill:'#0000ff'},lg);
  
  t2.setAttribute('transform',`translate(${x0+34+w1+32},${T+41}) scale(${SX},1)`);
});
</script>
</body></html>
